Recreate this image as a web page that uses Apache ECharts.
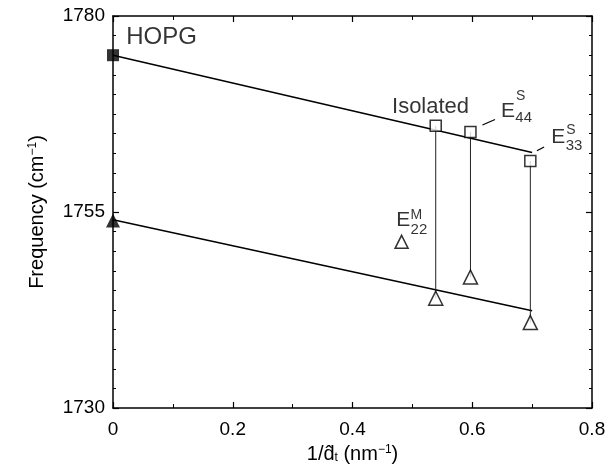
<!DOCTYPE html>
<html lang="en">
<head>
    <meta charset="UTF-8">
    <title>Frequency vs 1/d</title>
    <script src="https://cdn.jsdelivr.net/npm/echarts@6/dist/echarts.min.js"></script>
    <style>
        html, body { margin: 0; padding: 0; background: #fff; }
        #main { width: 610px; height: 466px; }
    </style>
</head>
<body>
<div id="main"></div>

<script type="text/javascript">
    // data
    var hopgS = [[0, 1775.0]];
    var hopgM = [[0, 1753.9]];
    var fitS = [[0, 1775.0], [0.7, 1762.6]];
    var fitM = [[0, 1754.0], [0.7, 1742.4]];
    var isoX = [0.539, 0.597, 0.697];
    var isoS = [1766.0, 1765.2, 1761.5];
    var isoM = [1744.0, 1746.7, 1740.9];
    var legendTri = [[0.482, 1751.2]];

    var xTicks = [0, 0.2, 0.4, 0.6, 0.8];
    var yTicks = [1730, 1755, 1780];

    // annotation text: [x, y, text, size]
    var notes = [
        [0.022, 1777.3, 'HOPG', 24],
        [0.466, 1768.4, 'Isolated', 22],
        [0.648, 1767.9, 'E', 21],
        [0.673, 1769.8, 'S', 14],
        [0.672, 1767.0, '44', 15],
        [0.732, 1764.5, 'E', 21],
        [0.757, 1765.5, 'S', 14],
        [0.756, 1763.5, '33', 15],
        [0.473, 1754.0, 'E', 21],
        [0.497, 1754.6, 'M', 14],
        [0.497, 1752.7, '22', 15]
    ];
    var leader44 = [[0.617, 1766.1], [0.638, 1766.8]];
    var leader33 = [[0.708, 1762.8], [0.720, 1763.3]];

    var font = 'Liberation Sans, Arial, sans-serif';

    var series = [];
    function line(data, width, color) {
        series.push({
            type: 'line', data: data, symbol: 'none', silent: true,
            lineStyle: {color: color || '#000', width: width}, z: 2
        });
    }
    line(fitS, 1.5);
    line(fitM, 1.5);
    for (var i = 0; i < isoX.length; i++) {
        line([[isoX[i], isoS[i]], [isoX[i], isoM[i]]], 1, '#222');
    }
    line(leader44, 1.2);
    line(leader33, 1.2);

    function marks(data, symbol, size, filled) {
        series.push({
            type: 'scatter', data: data, symbol: symbol, symbolSize: size, z: 5,
            itemStyle: {
                color: filled ? '#000' : '#fff',
                borderColor: '#000', borderWidth: filled ? 0 : 1.5
            }
        });
    }
    marks(hopgS, 'rect', 12, true);
    marks(hopgM, 'triangle', 14, true);
    marks(isoX.map(function (x, k) { return [x, isoS[k]]; }), 'rect', 11, false);
    marks(isoX.map(function (x, k) { return [x, isoM[k]]; }), 'triangle', 14, false);
    marks(legendTri, 'triangle', 13, false);

    series.push({
        type: 'scatter', symbolSize: 0, z: 6,
        data: notes.map(function (n) {
            return {
                value: [n[0], n[1]],
                label: {
                    show: true, position: [0, 0], align: 'left', verticalAlign: 'middle',
                    formatter: n[2], fontSize: n[3], color: '#000', fontFamily: font
                }
            };
        })
    });

    var tickStyle = {show: true, inside: true, length: 6, lineStyle: {color: '#000', width: 1.2}};

    var option = {
        backgroundColor: '#fff',
        animation: false,
        grid: {left: 113, right: 18, top: 16, bottom: 58, outerBoundsMode: 'none', containLabel: false},
        xAxis: [{
            type: 'value', min: xTicks[0], max: xTicks[xTicks.length - 1], interval: 0.2,
            axisLine: {onZero: false, lineStyle: {color: '#000', width: 1.5}},
            axisTick: tickStyle,
            minorTick: {show: true, splitNumber: 2, length: 4, lineStyle: {color: '#000', width: 1}},
            splitLine: {show: false},
            axisLabel: {color: '#000', fontSize: 19, fontFamily: font, margin: 12},
            name: '1/{d|d\u0302}{sub|t} (nm{sup|\u22121})',
            nameLocation: 'middle', nameGap: 36,
            nameTextStyle: {
                color: '#000', fontSize: 20, fontFamily: font,
                rich: {
                    d: {fontSize: 20, fontFamily: font, color: '#000'},
                    sub: {fontSize: 12, fontFamily: font, color: '#000', verticalAlign: 'bottom', lineHeight: 12},
                    sup: {fontSize: 12, fontFamily: font, color: '#000', verticalAlign: 'top', lineHeight: 12}
                }
            }
        }, {
            type: 'value', position: 'top', min: 0, max: 0.8, interval: 0.2,
            axisLine: {onZero: false, lineStyle: {color: '#000', width: 1.5}},
            axisTick: tickStyle,
            minorTick: {show: true, splitNumber: 2, length: 4, lineStyle: {color: '#000', width: 1}},
            splitLine: {show: false}, axisLabel: {show: false}
        }],
        yAxis: [{
            type: 'value', min: yTicks[0], max: yTicks[yTicks.length - 1], interval: 25,
            axisLine: {onZero: false, lineStyle: {color: '#000', width: 1.5}},
            axisTick: tickStyle,
            minorTick: {show: true, splitNumber: 10, length: 3, lineStyle: {color: '#000', width: 1}},
            splitLine: {show: false},
            axisLabel: {color: '#000', fontSize: 19, fontFamily: font, margin: 8,
                formatter: function (v) { return String(v); }},
            name: 'Frequency (cm{sup|\u22121})',
            nameLocation: 'middle', nameGap: 66,
            nameTextStyle: {
                color: '#000', fontSize: 20, fontFamily: font,
                rich: {
                    sup: {fontSize: 12, fontFamily: font, color: '#000', verticalAlign: 'top', lineHeight: 12}
                }
            }
        }, {
            type: 'value', position: 'right', min: 1730, max: 1780, interval: 25,
            axisLine: {onZero: false, lineStyle: {color: '#000', width: 1.5}},
            axisTick: tickStyle,
            minorTick: {show: true, splitNumber: 10, length: 3, lineStyle: {color: '#000', width: 1}},
            splitLine: {show: false}, axisLabel: {show: false}
        }],
        series: series
    };

    var myChart = echarts.init(document.getElementById('main'));
    myChart.setOption(option);
</script>
</body>
</html>
